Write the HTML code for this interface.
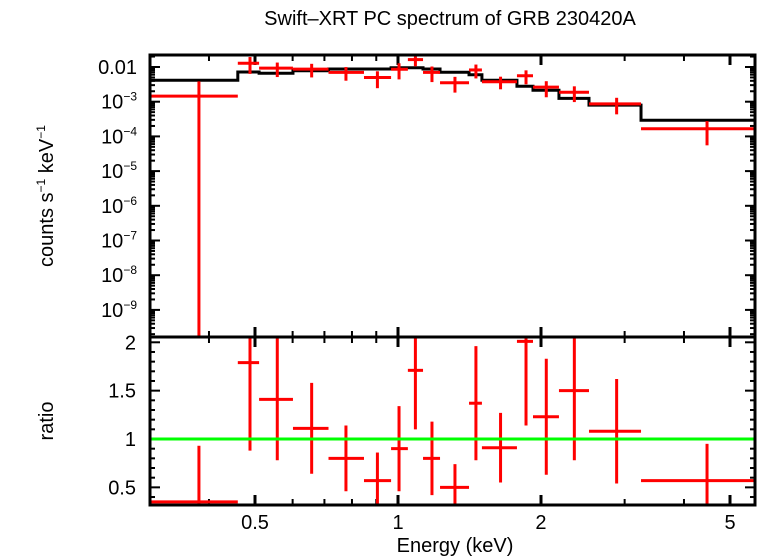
<!DOCTYPE html>
<html><head><meta charset="utf-8">
<style>
body{margin:0;background:#fff;}
svg{display:block;font-family:"Liberation Sans",sans-serif;}
</style></head>
<body>
<svg id="chart" width="758" height="556" viewBox="0 0 758 556">
<text x="450" y="25" font-size="20" text-anchor="middle">Swift–XRT PC spectrum of GRB 230420A</text>
<text transform="translate(53,196) rotate(-90)" font-size="20" text-anchor="middle">counts s<tspan font-size="12" dy="-8">−1</tspan><tspan dy="8"> keV</tspan><tspan font-size="12" dy="-8">−1</tspan></text>
<text transform="translate(53,421) rotate(-90)" font-size="20" text-anchor="middle">ratio</text>
<text x="455" y="552" font-size="20" text-anchor="middle">Energy (keV)</text>
<g id="g"></g>
</svg>
<script>
const binLo=[0.299,0.460,0.510,0.601,0.714,0.848,0.967,1.049,1.129,1.226,1.411,1.502,1.780,1.924,2.182,2.524,3.248];
const binHi=[0.460,0.510,0.601,0.714,0.848,0.967,1.049,1.129,1.226,1.411,1.502,1.780,1.924,2.182,2.524,3.248,5.645];
const binCenter=[0.381,0.488,0.557,0.658,0.777,0.905,1.005,1.088,1.179,1.318,1.459,1.644,1.860,2.052,2.351,2.886,4.473];
const modelVals=[4.14e-3,7.18e-3,6.58e-3,7.82e-3,8.75e-3,8.75e-3,9.55e-3,9.55e-3,8.75e-3,7.03e-3,6.0e-3,4.14e-3,2.78e-3,2.13e-3,1.25e-3,8.0e-4,2.91e-4];
const ratioVals=[0.35,1.79,1.41,1.11,0.80,0.57,0.90,1.71,0.80,0.50,1.37,0.91,2.01,1.23,1.50,1.08,0.57];
const ratioErr=[0.58,0.91,0.63,0.47,0.34,0.29,0.44,0.61,0.38,0.24,0.59,0.36,0.87,0.60,0.72,0.54,0.38];
const xTickVals=[0.5,1,2,5];
const xTickLabels=["0.5","1","2","5"];
const yTopTickExp=[-2,-3,-4,-5,-6,-7,-8,-9];
const yRatioTicks=[0.5,1,1.5,2];
const yRatioLabels=["0.5","1","1.5","2"];

const L=150,R=755,T=55,M=337,B=505;
const X=e=>398+475*Math.log10(e);
const YT=v=>67-34.7*(Math.log10(v)+2);
const YR=r=>439-96.7*(r-1);
const clampT=y=>Math.max(T,Math.min(M,y));
const clampR=y=>Math.max(M,Math.min(B,y));
const g=document.getElementById('g');
const NS='http://www.w3.org/2000/svg';
function mk(tag,attrs){const e=document.createElementNS(NS,tag);for(const k in attrs)e.setAttribute(k,attrs[k]);g.appendChild(e);return e;}

const minorX=[0.3,0.4,0.6,0.7,0.8,0.9,3,4];
[...xTickVals,...minorX].forEach(v=>{
  const major=xTickVals.includes(v);const len=major?10:6;const x=X(v);
  [[T,T+len],[M-len,M+len],[B-len,B]].forEach(p=>{
    const t=mk('line',{x1:x,x2:x,y1:p[0],y2:p[1],stroke:'#000','stroke-width':major?3:2});
    
    
  });
});
xTickVals.forEach((v,i)=>{
  const t=mk('text',{x:X(v),y:529,'font-size':20,'text-anchor':'middle'});t.textContent=xTickLabels[i];
  
  
});
for(let ex=-1;ex>=-10;ex--){
  for(let m=1;m<10;m++){
    const y=YT(m*Math.pow(10,ex));if(y<T||y>M)continue;
    const len=m===1?10:5;
    [[L,L+len],[R-len,R]].forEach(p=>{
      const t=mk('line',{x1:p[0],x2:p[1],y1:y,y2:y,stroke:'#000','stroke-width':2});
      
      
    });
  }
}
yTopTickExp.forEach(ex=>{
  const t=mk('text',{x:137,y:YT(Math.pow(10,ex))+7,'font-size':20,'text-anchor':'end'});
  if(ex===-2){t.textContent='0.01';}
  else{t.innerHTML='10<tspan font-size="12" dy="-8">−'+(-ex)+'</tspan>';}
  
  
});
for(let r=0.4;r<=2.05;r+=0.1){
  const y=YR(r);const major=Math.abs(r*2-Math.round(r*2))<0.01;const len=major?10:5;
  [[L,L+len],[R-len,R]].forEach(p=>{
    const t=mk('line',{x1:p[0],x2:p[1],y1:y,y2:y,stroke:'#000','stroke-width':2});
    
    
  });
}
yRatioTicks.forEach((v,i)=>{
  const t=mk('text',{x:136,y:YR(v)+7,'font-size':20,'text-anchor':'end'});t.textContent=yRatioLabels[i];
  
  
});

let d='';
binLo.forEach((lo,i)=>{const y=YT(modelVals[i]);d+=(i?'L':'M')+X(lo)+','+y+'L'+X(binHi[i])+','+y;});
const mp=mk('path',{d:d,fill:'none',stroke:'#000','stroke-width':3});



binLo.forEach((lo,i)=>{
  const m=modelVals[i],r=ratioVals[i],e=ratioErr[i];
  const xc=X(binCenter[i]);
  const yd=YT(m*r);
  const lowV=(r-e)*m;
  const h=mk('line',{x1:X(lo),x2:X(binHi[i]),y1:yd,y2:yd,stroke:'#f00','stroke-width':3});
  
  
  const v=mk('line',{x1:xc,x2:xc,y1:clampT(YT(m*(r+e))),y2:lowV>0?clampT(YT(lowV)):M,stroke:'#f00','stroke-width':3});
  
  
  const yr=YR(r);
  const h2=mk('line',{x1:X(lo),x2:X(binHi[i]),y1:clampR(yr),y2:clampR(yr),stroke:'#f00','stroke-width':3});
  
  
  const v2=mk('line',{x1:xc,x2:xc,y1:clampR(YR(r+e)),y2:clampR(YR(r-e)),stroke:'#f00','stroke-width':3});
  
  
});
const gl=mk('line',{x1:L,x2:R,y1:YR(1),y2:YR(1),stroke:'#0f0','stroke-width':3});



const f1=mk('rect',{x:L,y:T,width:R-L,height:M-T,fill:'none',stroke:'#000','stroke-width':3});


const f2=mk('rect',{x:L,y:M,width:R-L,height:B-M,fill:'none',stroke:'#000','stroke-width':3});


</script>
</body></html>
